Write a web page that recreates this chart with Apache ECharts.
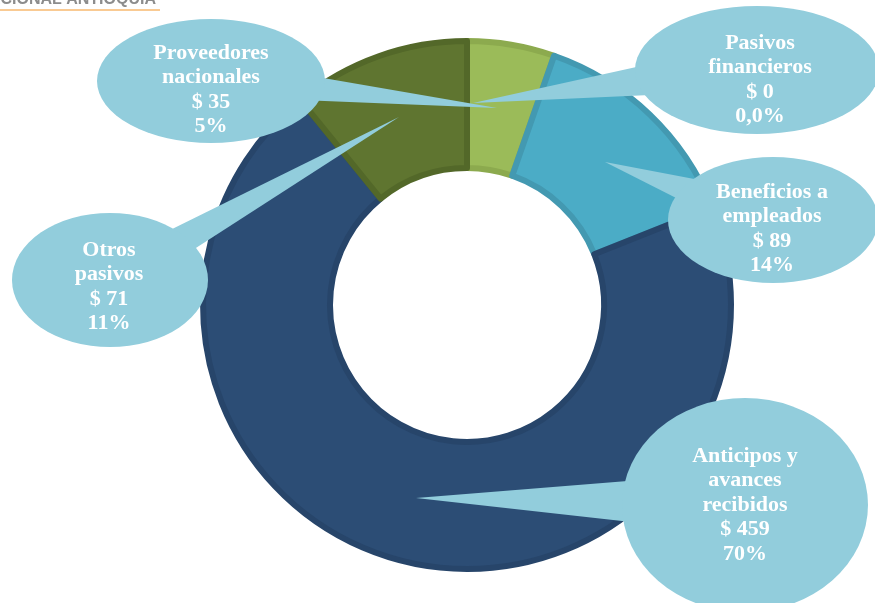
<!DOCTYPE html>
<html>
  <head>
    <meta charset="utf-8" />
    <title>Pasivos</title>
    <script src="https://cdn.jsdelivr.net/npm/echarts@6/dist/echarts.min.js"></script>
    <style>
      * {
        margin: 0;
        padding: 0;
        box-sizing: border-box;
      }
    </style>
  </head>
  <body>
    <div id="main" style="width: 875px; height: 603px"></div>
    <script type="text/javascript">
      var myChart = echarts.init(document.getElementById("main"));

      // datos (orden horario desde arriba)
      const names = [
        "Proveedores\nnacionales",
        "Pasivos\nfinancieros",
        "Beneficios a\nempleados",
        "Anticipos y\navances\nrecibidos",
        "Otros\npasivos",
      ];
      const values = [35, 0, 89, 459, 71];
      const pctLabels = ["5%", "0,0%", "14%", "70%", "11%"];
      const colors = ["#9BBB59", "#4BACC6", "#4BACC6", "#2C4D75", "#5F7530"];
      const bandColors = ["#8CAA4E", "#4399B1", "#4399B1", "#27456A", "#536829"];

      // globos: centro elipse, radios, centro texto, cola [base1, base2, punta]
      const callouts = [
        { c: [211, 81], r: [114, 62], t: [211, 90], tail: [[300, 74], [300, 100], [497, 108]] },
        { c: [757, 70], r: [122, 64], t: [760, 80], tail: [[650, 64], [650, 95], [473, 103]] },
        { c: [773, 220], r: [105, 63], t: [772, 229], tail: [[710, 182], [690, 205], [605, 162]] },
        { c: [745, 505], r: [123, 107], t: [745, 505], tail: [[640, 480], [640, 523], [416, 498]] },
        { c: [110, 280], r: [98, 67], t: [109, 287], tail: [[160, 235], [185, 255], [399, 117]] },
      ];

      const graphics = [
        {
          type: "text",
          x: 156,
          y: 8,
          style: {
            text: "NACIONAL ANTIOQUIA",
            fill: "#8c8c8c",
            font: "bold 16px 'Liberation Sans'",
            textAlign: "right",
            textVerticalAlign: "bottom",
          },
        },
        {
          type: "rect",
          shape: { x: 0, y: 9, width: 160, height: 2 },
          style: { fill: "#F9CA93" },
        },
      ];
      callouts.forEach(function (co, i) {
        graphics.push({
          type: "polygon",
          z: 10,
          shape: { points: co.tail },
          style: { fill: "#92CDDC" },
        });
        graphics.push({
          type: "circle",
          z: 10,
          x: co.c[0],
          y: co.c[1],
          scaleX: co.r[0],
          scaleY: co.r[1],
          shape: { cx: 0, cy: 0, r: 1 },
          style: { fill: "#92CDDC" },
        });
        graphics.push({
          type: "text",
          z: 11,
          x: co.t[0],
          y: co.t[1],
          style: {
            text: names[i] + "\n$ " + values[i] + "\n" + pctLabels[i],
            fill: "#ffffff",
            font: "bold 22px 'Liberation Serif'",
            lineHeight: 24.5,
            textAlign: "center",
            textVerticalAlign: "middle",
          },
        });
      });

      var option = {
        animation: false,
        graphic: graphics,
        series: [
          {
            type: "pie",
            center: [467, 305],
            radius: [137, 264],
            startAngle: 90,
            clockwise: true,
            label: { show: false },
            labelLine: { show: false },
            emphasis: { disabled: true },
            data: values.map(function (v, i) {
              return {
                name: names[i],
                value: v,
                itemStyle: {
                  color: colors[i],
                  borderColor: bandColors[i],
                  borderWidth: v === 0 ? 0 : 6,
                },
              };
            }),
          },
        ],
      };

      myChart.setOption(option);
    </script>
  </body>
</html>
